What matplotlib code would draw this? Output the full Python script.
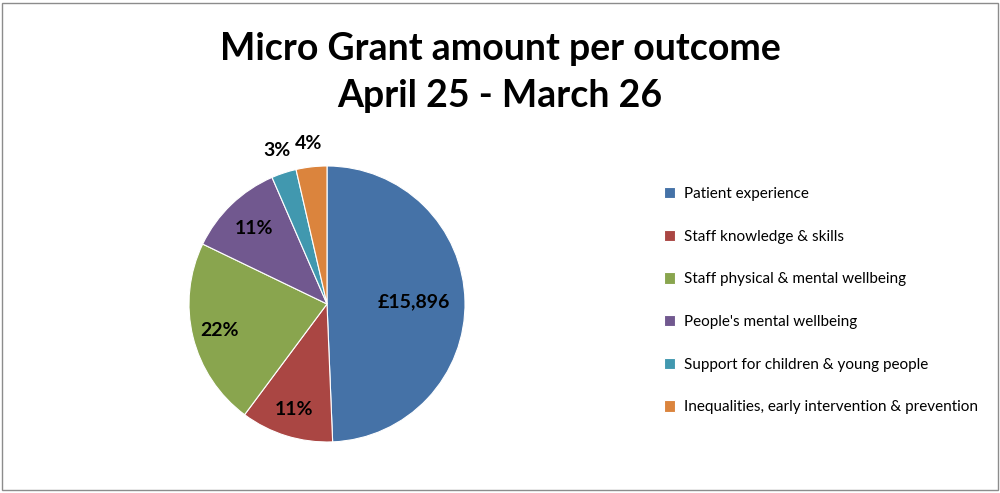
import matplotlib
matplotlib.use("Agg")
import matplotlib.pyplot as plt
import numpy as np
from matplotlib.patches import Rectangle

outcomes = ["Patient experience", "Staff knowledge & skills",
            "Staff physical & mental wellbeing", "People's mental wellbeing",
            "Support for children & young people",
            "Inequalities, early intervention & prevention"]
amounts = [15896, 3490, 7075, 3650, 940, 1160]
colors = ["#4572A7", "#AA4643", "#89A54E", "#71588F", "#4198AF", "#DB843D"]

# label distance from centre, as fraction of radius
label_r = [0.63, 0.80, 0.80, 0.76, 1.17, 1.17]

plt.rcParams['font.family'] = ['Lato', 'DejaVu Sans']

fig = plt.figure(figsize=(10, 4.93), dpi=100)
fig.patches.append(Rectangle((0.002, 0.006), 0.996, 0.988, transform=fig.transFigure,
                             fill=False, edgecolor="#8c8c8c", linewidth=1))

fig.text(0.5, 0.90, "Micro Grant amount per outcome", ha="center", va="center",
         fontsize=27, fontweight="bold")
fig.text(0.5, 0.806, "April 25 - March 26", ha="center", va="center",
         fontsize=27, fontweight="bold")

ax = fig.add_axes([0.189, 0.1034, 0.276, 0.560])
wedges, _ = ax.pie(amounts, colors=colors, startangle=90, counterclock=False,
                   radius=1, wedgeprops=dict(edgecolor="white", linewidth=0.8))
ax.set_xlim(-1, 1)
ax.set_ylim(-1, 1)
ax.set_aspect("equal")
ax.axis("off")

total = sum(amounts)
for i, (w, v) in enumerate(zip(wedges, amounts)):
    mid = np.deg2rad((w.theta1 + w.theta2) / 2)
    x = label_r[i] * np.cos(mid)
    y = label_r[i] * np.sin(mid)
    if i == 0:
        txt = "£{:,}".format(v)
    else:
        txt = "{:.0f}%".format(100 * v / total)
    ax.text(x, y, txt, ha="center", va="center", fontsize=14, fontweight="bold",
            clip_on=False)

leg = fig.legend(wedges, outcomes, loc="upper left", bbox_to_anchor=(0.650, 0.649),
                 frameon=False, fontsize=11, handlelength=0.75, handleheight=0.75,
                 labelspacing=1.88, handletextpad=0.6)

fig.savefig("out.png", dpi=100)
